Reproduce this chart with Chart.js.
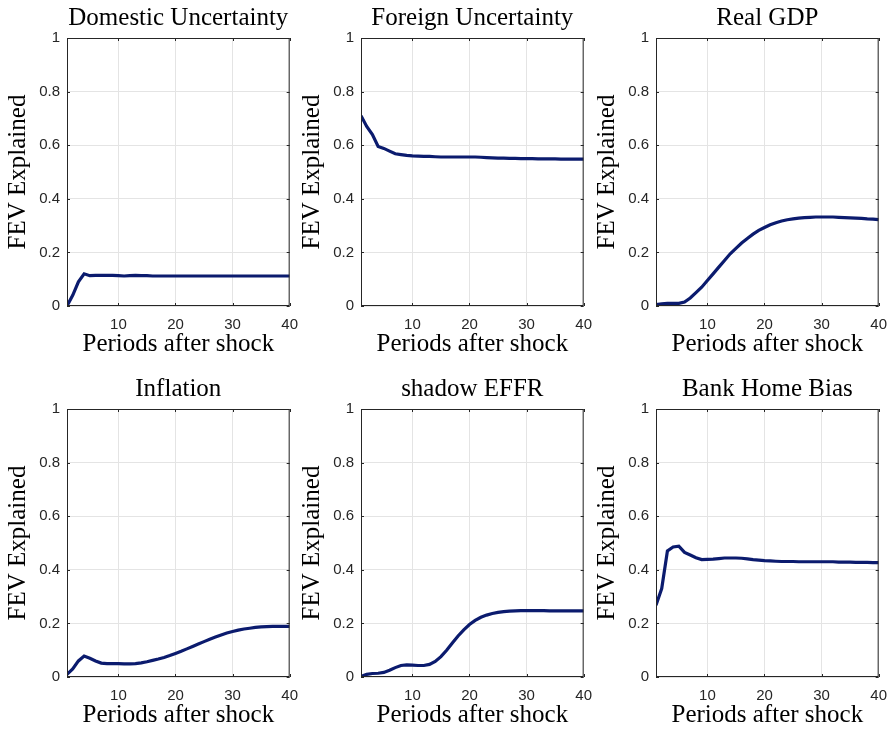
<!DOCTYPE html>
<html>
<head>
<meta charset="utf-8">
<script src="https://cdn.jsdelivr.net/npm/chart.js@4.4.1/dist/chart.umd.min.js"></script>
<style>
  body { margin: 0; background: #fff; width: 890px; height: 730px; position: relative; overflow: hidden; }
  .panel { position: absolute; width: 308px; height: 366px; }
</style>
</head>
<body>
<div class="panel" style="left:0px;top:0px"><canvas id="c0"></canvas></div>
<div class="panel" style="left:294px;top:0px"><canvas id="c1"></canvas></div>
<div class="panel" style="left:589px;top:0px"><canvas id="c2"></canvas></div>
<div class="panel" style="left:0px;top:371px"><canvas id="c3"></canvas></div>
<div class="panel" style="left:294px;top:371px"><canvas id="c4"></canvas></div>
<div class="panel" style="left:589px;top:371px"><canvas id="c5"></canvas></div>
<script>
const periods = Array.from({ length: 40 }, (_, i) => i + 1);
const titles = ["Domestic Uncertainty", "Foreign Uncertainty", "Real GDP", "Inflation", "shadow EFFR", "Bank Home Bias"];
const xTicks = [10, 20, 30, 40];
const yTicks = [0, 0.2, 0.4, 0.6, 0.8, 1];

const domestic = [0.0, 0.04, 0.09, 0.12, 0.113, 0.114, 0.114, 0.114, 0.114, 0.113, 0.112, 0.113, 0.114, 0.113, 0.113,
  0.112, 0.112, 0.112, 0.112, 0.112, 0.112, 0.112, 0.112, 0.112, 0.112, 0.112, 0.112, 0.112, 0.112, 0.112,
  0.112, 0.112, 0.112, 0.112, 0.112, 0.112, 0.112, 0.112, 0.112, 0.112];
const foreign = [0.71, 0.67, 0.64, 0.595, 0.588, 0.578, 0.568, 0.565, 0.562, 0.56, 0.559, 0.558, 0.558, 0.557, 0.556,
  0.556, 0.556, 0.556, 0.556, 0.556, 0.556, 0.555, 0.554, 0.553, 0.552, 0.552, 0.551, 0.551, 0.55, 0.55,
  0.55, 0.549, 0.549, 0.549, 0.549, 0.548, 0.548, 0.548, 0.548, 0.548];
const realGdp = [0.005, 0.008, 0.01, 0.01, 0.01, 0.015, 0.03, 0.05, 0.07, 0.095, 0.12, 0.145, 0.17, 0.195, 0.215,
  0.235, 0.252, 0.268, 0.282, 0.293, 0.303, 0.311, 0.317, 0.322, 0.325, 0.328, 0.33, 0.331, 0.332, 0.332,
  0.332, 0.332, 0.331, 0.33, 0.329, 0.328, 0.327, 0.325, 0.324, 0.322];
const inflation = [0.01, 0.03, 0.06, 0.078, 0.07, 0.06, 0.052, 0.05, 0.05, 0.05, 0.049, 0.049, 0.05, 0.053, 0.057,
  0.062, 0.067, 0.073, 0.08, 0.088, 0.096, 0.105, 0.114, 0.123, 0.132, 0.141, 0.149, 0.157, 0.164, 0.17,
  0.175, 0.179, 0.182, 0.185, 0.187, 0.188, 0.189, 0.189, 0.189, 0.189];
const shadowEffr = [0.002, 0.01, 0.013, 0.014, 0.017, 0.025, 0.035, 0.043, 0.045, 0.044, 0.043, 0.043, 0.047, 0.058, 0.076,
  0.1, 0.127, 0.153, 0.176, 0.196, 0.211, 0.223, 0.231, 0.237, 0.241, 0.244, 0.246, 0.247, 0.248, 0.248,
  0.248, 0.248, 0.248, 0.247, 0.247, 0.247, 0.247, 0.247, 0.247, 0.247];
const homeBias = [0.268, 0.33, 0.47, 0.485, 0.488, 0.465, 0.455, 0.445, 0.438, 0.439, 0.44, 0.442, 0.444, 0.444, 0.444,
  0.443, 0.441, 0.438, 0.436, 0.434, 0.433, 0.432, 0.431, 0.431, 0.431, 0.43, 0.43, 0.43, 0.43, 0.43,
  0.43, 0.43, 0.429, 0.429, 0.429, 0.428, 0.428, 0.428, 0.427, 0.427];
const series = [domestic, foreign, realGdp, inflation, shadowEffr, homeBias];

const axisColor = "#262626";
const gridColor = "#e4e4e4";
const serif = "'Liberation Serif', 'Times New Roman', serif";
const sans = "'Liberation Sans', Arial, sans-serif";

// MATLAB-style full box with inward ticks
const boxPlugin = {
  id: "box",
  afterDraw(chart) {
    const { ctx, chartArea: a, scales } = chart;
    ctx.save();
    ctx.strokeStyle = axisColor;
    ctx.lineWidth = 1;
    ctx.strokeRect(a.left + 0.5, a.top + 0.5, a.right - a.left - 1, a.bottom - a.top - 1);
    const len = 3;
    ctx.beginPath();
    xTicks.forEach(v => {
      const x = Math.round(scales.x.getPixelForValue(v)) + 0.5;
      ctx.moveTo(x, a.bottom); ctx.lineTo(x, a.bottom - len);
      ctx.moveTo(x, a.top); ctx.lineTo(x, a.top + len);
    });
    yTicks.forEach(v => {
      const y = Math.round(scales.y.getPixelForValue(v)) + 0.5;
      ctx.moveTo(a.left, y); ctx.lineTo(a.left + len, y);
      ctx.moveTo(a.right, y); ctx.lineTo(a.right - len, y);
    });
    ctx.stroke();
    ctx.restore();
  }
};

series.forEach((values, i) => {
  new Chart(document.getElementById("c" + i), {
    type: "line",
    data: {
      labels: periods,
      datasets: [{
        data: values,
        borderColor: "#0b1b6e",
        borderWidth: 3.2,
        pointRadius: 0,
        tension: 0,
        fill: false
      }]
    },
    options: {
      responsive: true,
      maintainAspectRatio: false,
      animation: false,
      layout: { padding: { left: 3, right: 12, top: 0, bottom: 0 } },
      plugins: {
        legend: { display: false },
        tooltip: { enabled: false },
        title: {
          display: true,
          fullSize: false,
          text: titles[i],
          color: "#000",
          font: { family: serif, size: 25, weight: "normal", lineHeight: 1.2 },
          padding: { top: 3, bottom: 5 }
        }
      },
      scales: {
        x: {
          type: "linear",
          min: 1,
          max: 40,
          afterBuildTicks: s => { s.ticks = xTicks.map(v => ({ value: v })); },
          afterFit: s => { s.height = 60; },
          grid: { color: gridColor, drawTicks: false },
          border: { display: false },
          ticks: { color: axisColor, padding: 10, maxRotation: 0, font: { family: sans, size: 15 } },
          title: {
            display: true,
            text: "Periods after shock",
            color: "#000",
            font: { family: serif, size: 25, lineHeight: 1.2 },
            padding: { top: 0, bottom: 7 }
          }
        },
        y: {
          min: 0,
          max: 1,
          afterBuildTicks: s => { s.ticks = yTicks.map(v => ({ value: v })); },
          afterFit: s => { s.width = 64; },
          grid: { color: gridColor, drawTicks: false },
          border: { display: false },
          ticks: { color: axisColor, padding: 7, font: { family: sans, size: 15 }, callback: v => String(v) },
          title: {
            display: true,
            text: "FEV Explained",
            color: "#000",
            font: { family: serif, size: 25, lineHeight: 1.2 },
            padding: { top: 0, bottom: 0 }
          }
        }
      }
    },
    plugins: [boxPlugin]
  });
});
</script>
</body>
</html>
